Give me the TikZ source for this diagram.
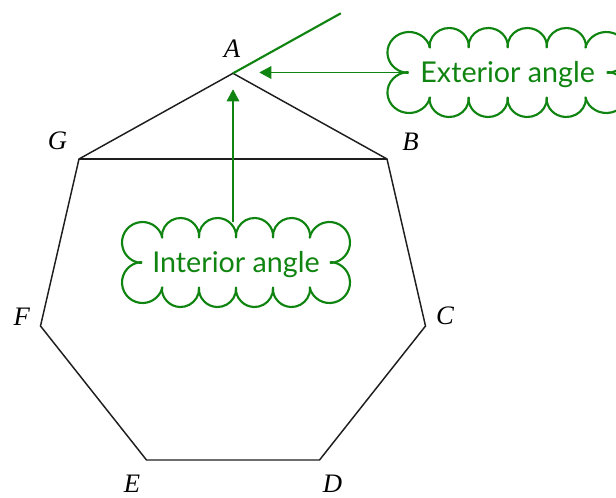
\documentclass[tikz,border=0pt]{standalone}
\usepackage{fontspec}
\setsansfont{Lato}
\newfontfamily\labelfont{Liberation Serif}
\usetikzlibrary{arrows.meta, calc}
\definecolor{anglegreen}{RGB}{16,132,16}
\definecolor{edgecolor}{RGB}{30,30,30}

% puffs of a cloud round a named node (px units, y up)
\newcommand{\cloudpuffs}[2][1]{%
  \begin{scope}[shift={(#2.center)}, xscale=#1]
    \foreach \cx/\cy/\r/\a/\b [evaluate=\a as \sa using \a-7, evaluate=\b as \eb using \b+7] in {
        -55.5/25.8/18.7/5.3/174.7, -18.5/25.8/18.7/5.3/174.7,
        18.5/25.8/18.7/5.3/174.7, 55.5/25.8/18.7/5.3/174.7,
        -55.5/-25.8/18.7/185.3/354.7, -18.5/-25.8/18.7/185.3/354.7,
        18.5/-25.8/18.7/185.3/354.7, 55.5/-25.8/18.7/185.3/354.7,
        -93.5/20/20.5/21/260, -93.5/-20/20.5/100/339,
        93.5/20/20.5/-80/159, 93.5/-20/20.5/201/440}
      \draw[cloudline] ({\cx+\r*cos(\sa)},{\cy+\r*sin(\sa)})
        arc[start angle=\sa, end angle=\eb, radius=\r];
  \end{scope}}

\begin{document}
\begin{tikzpicture}[
    x=0.75pt, y=0.75pt,
    edge/.style={draw=edgecolor, line width=1.1pt},
    arrow/.style={-{Triangle[length=9pt, width=9.5pt]}, line width=0.8pt, draw=anglegreen},
    cloudline/.style={draw=anglegreen, line width=1.6pt, line cap=round},
    cloudbox/.style={
        rectangle,
        minimum width=145.5pt,
        minimum height=60pt,
        inner sep=0pt,
        text=anglegreen,
        font=\sffamily\fontsize{21.5}{26}\selectfont,
        text height=15.5pt,
        text depth=0pt
    },
    vlabel/.style={inner sep=0pt, font=\labelfont\fontsize{20}{24}\selectfont\itshape}
]
\useasboundingbox (0,0) rectangle (616,497);

%% HEPTAGON %%
\coordinate (A) at (233,423.7);
\coordinate (B) at (387,338);
\coordinate (C) at (425.5,171);
\coordinate (D) at (319.5,37);
\coordinate (E) at (146.5,37);
\coordinate (F) at (40.5,171);
\coordinate (G) at (79,338);

\draw [edge] (A) -- (B) -- (C) -- (D) -- (E) -- (F) -- (G) -- cycle;
\draw [edge] (G) -- (B);

%% VERTEX LABELS %%
\node (labA) [vlabel] at ($(A)+(-1,24.3)$) {A};
\node (labB) [vlabel] at ($(B)+(23.5,17.3)$) {B};
\node (labC) [vlabel] at ($(C)+(19.5,10)$) {C};
\node (labD) [vlabel] at ($(D)+(13,-23.5)$) {D};
\node (labE) [vlabel] at ($(E)+(-14.5,-23.5)$) {E};
\node (labF) [vlabel] at ($(F)+(-18.8,9.3)$) {F};
\node (labG) [vlabel] at ($(G)+(-21.5,18)$) {G};

%% EXTERIOR ANGLE %%
\coordinate (extEnd) at ($(G)!1.7!(A)$);
\draw [cloudline, line cap=butt] (A) -- (extEnd);

%% CLOUDS %%
\node (intCloud) [cloudbox] at (236,234.5) {Interior angle};
\node (extCloud) [cloudbox, minimum width=153.5pt] at (507.7,424.5) {Exterior angle};
\cloudpuffs{intCloud}
\cloudpuffs[1.055]{extCloud}

%% ARROWS %%
\coordinate (extTip) at ($(A)+(26.3,0)$);
\coordinate (intTip) at ($(A)+(0,-16)$);
\draw [arrow] (extCloud.west) -- (extCloud.west -| extTip);
\draw [arrow] (intCloud.north -| A) -- (intTip);

\end{tikzpicture}
\end{document}
